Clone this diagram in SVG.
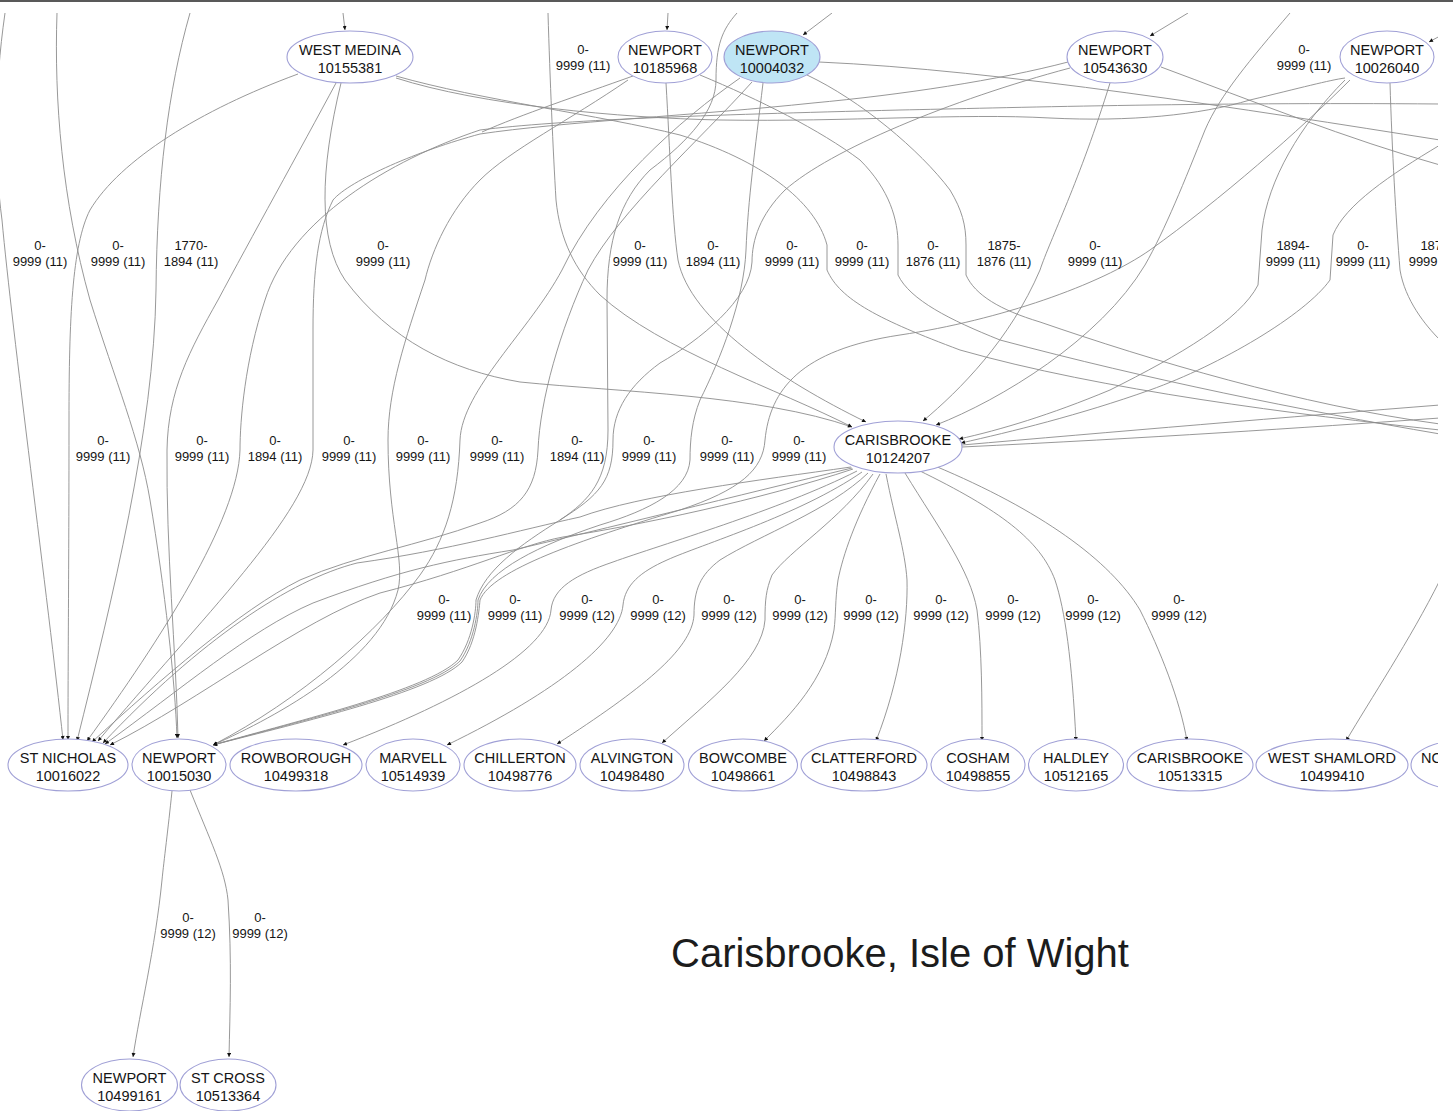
<svg xmlns="http://www.w3.org/2000/svg" width="1453" height="1111" viewBox="0 0 1453 1111">
  <style>
    .e { fill: none; stroke: #8c8c8c; stroke-width: 0.9; }
    .a { marker-end: url(#ah); }
    .n ellipse { fill: #ffffff; stroke: #a0a0d6; stroke-width: 1.1; }
    .n text { font-family: "Liberation Sans", Arial, sans-serif; font-size: 14.5px; fill: #151515; text-anchor: middle; }
    .hl ellipse { fill: #bfe5f5; }
    .lb text { font-family: "Liberation Sans", Arial, sans-serif; font-size: 13px; fill: #151515; text-anchor: middle; }
    .title { font-family: "Liberation Sans", Arial, sans-serif; font-size: 40px; fill: #1c1c1c; text-anchor: middle; }
  </style>
  <defs>
    <marker id="ah" viewBox="0 0 10 10" refX="10" refY="5" markerWidth="5" markerHeight="4" markerUnits="userSpaceOnUse" orient="auto">
      <path d="M0,0L10,5L0,10z" fill="#111"/>
    </marker>
    <clipPath id="frame"><rect x="0" y="13" width="1438" height="1098"/></clipPath>
  </defs>

  <rect x="0" y="0" width="1453" height="1111" fill="#ffffff"/>
  <line x1="0" y1="1" x2="1453" y2="1" stroke="#222" stroke-width="1.6"/>

  <g clip-path="url(#frame)">
    <g id="edges">
      <path class="e a" d="M343,13 L345,30"/>
      <path class="e a" d="M668,13 L667,30"/>
      <path class="e a" d="M832,13 L803,35"/>
      <path class="e a" d="M1188,13 L1150,36"/>
      <path class="e a" d="M1440,36 L1429,42"/>
      <path class="e a" d="M5,13 C-6,90 -6,160 2,220 C12,330 48,600 63,740"/>
      <path class="e a" d="M57,13 C54,100 62,200 90,300 C115,380 140,440 150,500 C165,590 175,680 177,738"/>
      <path class="e a" d="M190,13 C168,90 157,180 156,290 C154,430 112,600 77,741"/>
      <path class="e a" d="M298,74 C200,110 120,160 90,210 C72,245 69,320 69,420 C69,560 68,650 68,740"/>
      <path class="e a" d="M336,83 C300,150 250,240 218,300 C190,350 168,390 167,450 C166,550 176,650 178,738"/>
      <path class="e a" d="M341,83 C320,170 318,240 345,280 C390,340 450,370 520,382 C620,392 760,395 852,427"/>
      <path class="e" d="M396,76 C480,100 600,115 680,135 C760,160 815,200 827,245 L827,270 C840,300 880,320 960,350 C1100,390 1300,415 1440,430"/>
      <path class="e" d="M396,78 C480,105 620,118 720,120 C850,122 960,113 1050,118 C1130,122 1200,115 1250,100 C1300,88 1330,80 1345,78"/>
      <path class="e" d="M700,75 C760,100 820,130 860,160 C890,190 898,220 898,245 L898,275 C910,300 950,320 1000,340 C1150,380 1300,410 1440,434"/>
      <path class="e" d="M807,75 C860,100 920,150 950,190 C962,210 966,225 966,245 L966,275 C975,295 1000,310 1040,322 C1150,360 1300,405 1440,424"/>
      <path class="e" d="M819,62 C1000,70 1250,110 1440,140"/>
      <path class="e" d="M1161,67 C1250,100 1350,140 1440,165"/>
      <path class="e" d="M1390,83 C1392,150 1396,220 1400,270 C1405,300 1425,325 1440,340"/>
      <path class="e a" d="M1440,145 C1390,175 1345,205 1333,235 L1330,280 C1305,315 1220,365 1150,390 C1080,415 1010,432 961,443"/>
      <path class="e a" d="M1345,80 C1300,125 1268,180 1262,230 L1258,285 C1240,320 1180,355 1110,390 C1050,415 1000,430 959,439"/>
      <path class="e a" d="M1110,83 C1080,180 1050,240 1040,270 C1010,340 960,390 923,421"/>
      <path class="e a" d="M1290,13 C1250,60 1220,95 1205,130 C1185,180 1165,230 1145,265 C1100,340 1000,400 936,425"/>
      <path class="e a" d="M1350,80 C1300,130 1220,200 1150,250 C1100,285 1000,320 900,335 C800,350 770,390 765,440 C763,470 740,490 680,510 C580,540 492,570 480,600 C479,612 476,642 462,662 C432,692 302,722 213,745"/>
      <path class="e a" d="M1440,104 C1200,102 1000,108 900,110 C700,115 560,120 480,130 C390,160 290,220 265,300 C245,360 240,420 240,450 C238,520 160,640 87,741"/>
      <path class="e a" d="M1068,62 C1000,80 900,95 813,103 C700,115 560,122 480,134 C420,150 350,180 333,200 C318,230 313,270 313,330 L313,450 C312,510 200,620 98,741"/>
      <path class="e" d="M633,76 C580,95 520,115 482,132"/>
      <path class="e a" d="M628,80 C570,120 510,150 480,180 C450,210 432,250 425,280 C405,340 388,390 388,440 C388,520 405,560 398,590 C380,660 280,715 213,745"/>
      <path class="e a" d="M740,78 C680,120 600,190 562,270 C530,330 462,390 460,440 C458,500 445,540 420,575 C380,630 300,700 213,745"/>
      <path class="e a" d="M752,82 C700,140 620,210 588,270 C560,330 540,400 538,450 C536,490 520,510 480,523 C420,545 357,555 300,580 C240,610 160,680 92,742"/>
      <path class="e a" d="M737,13 C722,30 716,45 716,80 C716,110 690,140 650,170 C620,200 607,240 607,300 L608,430 C608,480 590,500 560,520 C520,545 485,570 476,600 C476,612 472,640 458,660 C428,690 300,720 213,745"/>
      <path class="e a" d="M763,83 C755,150 748,200 746,250 C744,300 720,360 700,400 C692,420 690,440 690,460 C688,490 650,510 600,525 C540,545 488,570 478,600 C478,612 474,641 460,661 C430,691 300,721 213,745"/>
      <path class="e" d="M1070,68 C950,100 830,150 785,190 C760,215 752,240 752,262 C750,300 700,340 660,363 C630,385 613,410 613,440 C613,480 600,495 560,520"/>
      <path class="e a" d="M666,83 C670,150 672,220 678,260 C690,320 780,380 866,422"/>
      <path class="e a" d="M548,13 C550,80 553,150 556,200 C560,240 575,270 600,295 C660,350 780,390 852,427"/>
      <path class="e a" d="M851,467 C760,480 640,495 580,517 C520,530 450,550 357,563 C290,580 200,640 103,743"/>
      <path class="e a" d="M852,468 C740,495 600,530 513,550 C450,560 400,570 313,603 C250,630 180,690 105,744"/>
      <path class="e a" d="M853,469 C760,500 640,525 563,537 C520,545 470,570 380,593 C300,620 200,700 110,745"/>
      <path class="e a" d="M857,471 C780,510 660,545 613,562 C575,575 553,588 551,610 C548,650 460,700 343,745"/>
      <path class="e a" d="M862,472 C800,515 700,545 667,560 C640,572 625,585 623,605 C620,640 560,690 447,745"/>
      <path class="e a" d="M868,473 C830,510 760,535 720,560 C700,575 694,590 694,615 C692,650 640,690 557,744"/>
      <path class="e a" d="M873,474 C840,520 790,550 772,575 C766,590 765,600 765,620 C762,660 710,700 662,743"/>
      <path class="e a" d="M880,474 C855,520 843,555 838,580 C835,600 836,615 834,630 C825,680 790,715 764,741"/>
      <path class="e a" d="M886,474 C895,520 905,550 907,580 C908,620 900,680 876,741"/>
      <path class="e a" d="M905,473 C940,530 970,570 977,610 C982,650 982,700 982,741"/>
      <path class="e a" d="M918,470 C1000,510 1040,540 1055,580 C1065,610 1072,660 1076,741"/>
      <path class="e a" d="M935,466 C1040,510 1110,560 1140,610 C1160,650 1180,700 1187,741"/>
      <path class="e a" d="M1440,580 C1410,640 1370,700 1346,741"/>
      <path class="e" d="M962,445 C1100,433 1300,416 1440,405"/>
      <path class="e" d="M962,447 C1150,438 1300,428 1440,418"/>
      <path class="e a" d="M172,791 C168,830 164,860 162,880 C155,950 140,1010 133,1057"/>
      <path class="e a" d="M190,790 C210,840 225,870 228,900 C232,960 230,1010 229,1057"/>
    </g>

    <g id="edge-labels" class="lb">
      <text x="583" y="54">0-</text><text x="583" y="70">9999 (11)</text>
      <text x="1304" y="54">0-</text><text x="1304" y="70">9999 (11)</text>

      <text x="40" y="250">0-</text><text x="40" y="266">9999 (11)</text>
      <text x="118" y="250">0-</text><text x="118" y="266">9999 (11)</text>
      <text x="191" y="250">1770-</text><text x="191" y="266">1894 (11)</text>
      <text x="383" y="250">0-</text><text x="383" y="266">9999 (11)</text>
      <text x="640" y="250">0-</text><text x="640" y="266">9999 (11)</text>
      <text x="713" y="250">0-</text><text x="713" y="266">1894 (11)</text>
      <text x="792" y="250">0-</text><text x="792" y="266">9999 (11)</text>
      <text x="862" y="250">0-</text><text x="862" y="266">9999 (11)</text>
      <text x="933" y="250">0-</text><text x="933" y="266">1876 (11)</text>
      <text x="1004" y="250">1875-</text><text x="1004" y="266">1876 (11)</text>
      <text x="1095" y="250">0-</text><text x="1095" y="266">9999 (11)</text>
      <text x="1293" y="250">1894-</text><text x="1293" y="266">9999 (11)</text>
      <text x="1363" y="250">0-</text><text x="1363" y="266">9999 (11)</text>
      <text x="1437" y="250">1876-</text><text x="1436" y="266">9999 (11)</text>

      <text x="103" y="445">0-</text><text x="103" y="461">9999 (11)</text>
      <text x="202" y="445">0-</text><text x="202" y="461">9999 (11)</text>
      <text x="275" y="445">0-</text><text x="275" y="461">1894 (11)</text>
      <text x="349" y="445">0-</text><text x="349" y="461">9999 (11)</text>
      <text x="423" y="445">0-</text><text x="423" y="461">9999 (11)</text>
      <text x="497" y="445">0-</text><text x="497" y="461">9999 (11)</text>
      <text x="577" y="445">0-</text><text x="577" y="461">1894 (11)</text>
      <text x="649" y="445">0-</text><text x="649" y="461">9999 (11)</text>
      <text x="727" y="445">0-</text><text x="727" y="461">9999 (11)</text>
      <text x="799" y="445">0-</text><text x="799" y="461">9999 (11)</text>

      <text x="444" y="604">0-</text><text x="444" y="620">9999 (11)</text>
      <text x="515" y="604">0-</text><text x="515" y="620">9999 (11)</text>
      <text x="587" y="604">0-</text><text x="587" y="620">9999 (12)</text>
      <text x="658" y="604">0-</text><text x="658" y="620">9999 (12)</text>
      <text x="729" y="604">0-</text><text x="729" y="620">9999 (12)</text>
      <text x="800" y="604">0-</text><text x="800" y="620">9999 (12)</text>
      <text x="871" y="604">0-</text><text x="871" y="620">9999 (12)</text>
      <text x="941" y="604">0-</text><text x="941" y="620">9999 (12)</text>
      <text x="1013" y="604">0-</text><text x="1013" y="620">9999 (12)</text>
      <text x="1093" y="604">0-</text><text x="1093" y="620">9999 (12)</text>
      <text x="1179" y="604">0-</text><text x="1179" y="620">9999 (12)</text>

      <text x="188" y="922">0-</text><text x="188" y="938">9999 (12)</text>
      <text x="260" y="922">0-</text><text x="260" y="938">9999 (12)</text>
    </g>

    <!-- upper row -->
    <g id="n10155381" class="n"><ellipse cx="350" cy="57" rx="63" ry="26"/><text x="350" y="55">WEST MEDINA</text><text x="350" y="73">10155381</text></g>
    <g id="n10185968" class="n"><ellipse cx="665" cy="57" rx="47" ry="26"/><text x="665" y="55">NEWPORT</text><text x="665" y="73">10185968</text></g>
    <g id="n10004032" class="n hl"><ellipse cx="772" cy="57" rx="48" ry="26"/><text x="772" y="55">NEWPORT</text><text x="772" y="73">10004032</text></g>
    <g id="n10543630" class="n"><ellipse cx="1115" cy="57" rx="48" ry="26"/><text x="1115" y="55">NEWPORT</text><text x="1115" y="73">10543630</text></g>
    <g id="n10026040" class="n"><ellipse cx="1387" cy="57" rx="47" ry="26"/><text x="1387" y="55">NEWPORT</text><text x="1387" y="73">10026040</text></g>

    <!-- hub -->
    <g id="n10124207" class="n"><ellipse cx="898" cy="447" rx="64" ry="26"/><text x="898" y="445">CARISBROOKE</text><text x="898" y="463">10124207</text></g>

    <!-- lower row -->
    <g id="n10016022" class="n"><ellipse cx="68" cy="765" rx="60" ry="26"/><text x="68" y="763">ST NICHOLAS</text><text x="68" y="781">10016022</text></g>
    <g id="n10015030" class="n"><ellipse cx="179" cy="765" rx="47" ry="26"/><text x="179" y="763">NEWPORT</text><text x="179" y="781">10015030</text></g>
    <g id="n10499318" class="n"><ellipse cx="296" cy="765" rx="66" ry="26"/><text x="296" y="763">ROWBOROUGH</text><text x="296" y="781">10499318</text></g>
    <g id="n10514939" class="n"><ellipse cx="413" cy="765" rx="47" ry="26"/><text x="413" y="763">MARVELL</text><text x="413" y="781">10514939</text></g>
    <g id="n10498776" class="n"><ellipse cx="520" cy="765" rx="56" ry="26"/><text x="520" y="763">CHILLERTON</text><text x="520" y="781">10498776</text></g>
    <g id="n10498480" class="n"><ellipse cx="632" cy="765" rx="52" ry="26"/><text x="632" y="763">ALVINGTON</text><text x="632" y="781">10498480</text></g>
    <g id="n10498661" class="n"><ellipse cx="743" cy="765" rx="54.5" ry="26"/><text x="743" y="763">BOWCOMBE</text><text x="743" y="781">10498661</text></g>
    <g id="n10498843" class="n"><ellipse cx="864" cy="765" rx="63" ry="26"/><text x="864" y="763">CLATTERFORD</text><text x="864" y="781">10498843</text></g>
    <g id="n10498855" class="n"><ellipse cx="978" cy="765" rx="47" ry="26"/><text x="978" y="763">COSHAM</text><text x="978" y="781">10498855</text></g>
    <g id="n10512165" class="n"><ellipse cx="1076" cy="765" rx="47.5" ry="26"/><text x="1076" y="763">HALDLEY</text><text x="1076" y="781">10512165</text></g>
    <g id="n10513315" class="n"><ellipse cx="1190" cy="765" rx="63" ry="26"/><text x="1190" y="763">CARISBROOKE</text><text x="1190" y="781">10513315</text></g>
    <g id="n10499410" class="n"><ellipse cx="1332" cy="765" rx="76" ry="26"/><text x="1332" y="763">WEST SHAMLORD</text><text x="1332" y="781">10499410</text></g>
    <g id="n-edge" class="n"><ellipse cx="1471" cy="765" rx="60" ry="26"/><text x="1421" y="763" style="text-anchor:start">NO</text></g>

    <!-- bottom -->
    <g id="n10499161" class="n"><ellipse cx="129.5" cy="1085" rx="48" ry="26"/><text x="129.5" y="1083">NEWPORT</text><text x="129.5" y="1101">10499161</text></g>
    <g id="n10513364" class="n"><ellipse cx="228" cy="1085" rx="48" ry="26"/><text x="228" y="1083">ST CROSS</text><text x="228" y="1101">10513364</text></g>
  </g>

  <text class="title" x="900" y="967">Carisbrooke, Isle of Wight</text>
</svg>
